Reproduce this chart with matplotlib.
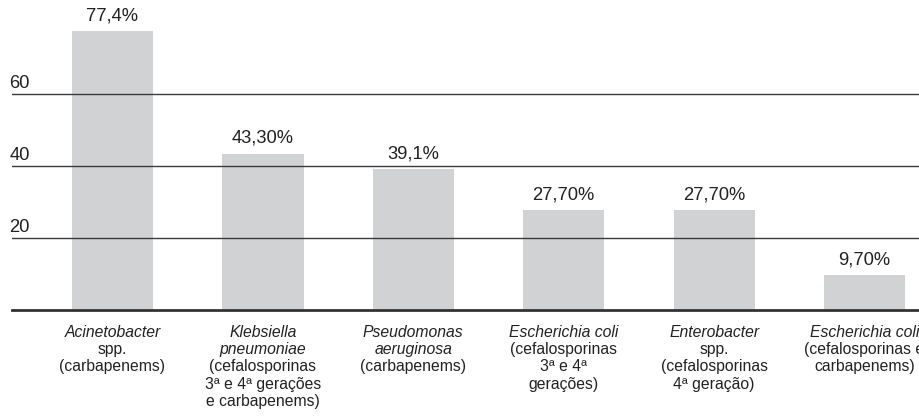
import matplotlib
matplotlib.use('Agg')
import matplotlib.pyplot as plt

plt.rcParams['font.family'] = ['Liberation Sans', 'DejaVu Sans']

# resistance rates per pathogen
values = [77.4, 43.3, 39.1, 27.7, 27.7, 9.7]
value_labels = ['77,4%', '43,30%', '39,1%', '27,70%', '27,70%', '9,70%']
# each category label: lines in italic, then lines in normal style
species = [
    ['Acinetobacter'],
    ['Klebsiella', 'pneumoniae'],
    ['Pseudomonas', 'aeruginosa'],
    ['Escherichia coli'],
    ['Enterobacter'],
    ['Escherichia coli'],
]
details = [
    ['spp.', '(carbapenems)'],
    ['(cefalosporinas', '3ª e 4ª gerações', 'e carbapenems)'],
    ['(carbapenems)'],
    ['(cefalosporinas', '3ª e 4ª', 'gerações)'],
    ['spp.', '(cefalosporinas', '4ª geração)'],
    ['(cefalosporinas e', 'carbapenems)'],
]
gridlines = [20, 40, 60]

fig = plt.figure(figsize=(9.19, 4.16), dpi=100)
ax = fig.add_axes([12 / 919, 106 / 416, 907 / 919, 310 / 416])

x = range(len(values))
ax.bar(x, values, width=0.54, color='#d1d2d4', zorder=1)

for g in gridlines:
    ax.axhline(g, color='#3a3a3a', lw=1.0, zorder=2)
    ax.annotate(str(g), (0, g), xycoords=('axes fraction', 'data'),
                xytext=(-1.8, 1.5), textcoords='offset points',
                ha='left', va='bottom', fontsize=13.2, color='#222222')
ax.axhline(0, color='#333333', lw=2.0, zorder=3, clip_on=False)

for i, v in enumerate(values):
    ax.annotate(value_labels[i], (i, v), xytext=(0, 5), textcoords='offset points',
                ha='center', va='bottom', fontsize=13.2, color='#222222')

# category labels below the baseline, italic species name first
line_h = 12.3
for i in x:
    lines = [(s, 'italic') for s in species[i]] + [(d, 'normal') for d in details[i]]
    for k, (txt, style) in enumerate(lines):
        ax.annotate(txt, (i, 0), xycoords=('data', 'axes fraction'),
                    xytext=(0, -11 - k * line_h), textcoords='offset points',
                    ha='center', va='top', fontsize=11.3, style=style,
                    color='#222222', annotation_clip=False)

ax.set_xlim(-0.668, 5.362)
ax.set_ylim(0, 86)
ax.axis('off')

fig.savefig('out.png', dpi=100)
